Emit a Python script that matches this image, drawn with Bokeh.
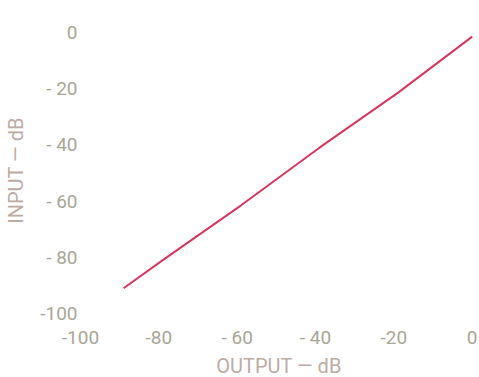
from bokeh.plotting import figure
from bokeh.models import Range1d, FixedTicker, Title
from bokeh.embed import file_html
from bokeh.resources import INLINE

# Values
output_db = [-89, -79, -59, -39, -19, 0]
input_db = [-91, -81, -61.5, -41, -21.5, -1.5]

x_ticks = [-100, -80, -60, -40, -20, 0]
x_tick_labels = ["-100", "-80", "- 60", "- 40", "-20", "0"]
y_ticks = [0, -20, -40, -60, -80, -100]
y_tick_labels = ["0", "- 20", "- 40", "- 60", "- 80", "-100"]

x_title = "OUTPUT — dB"
y_title = "INPUT — dB"

LABEL_COLOR = "#a9a697"
TITLE_COLOR = "#bcaba5"
LINE_COLOR = "#d6365f"

p = figure(width=479, height=377, output_backend="svg", toolbar_location=None,
           x_range=Range1d(-100.51, 1.86), y_range=Range1d(-102.47, 4.24),
           min_border_left=78, min_border_right=0, min_border_top=20, min_border_bottom=55)

p.line(output_db, input_db, line_color=LINE_COLOR, line_width=2)

p.outline_line_color = None
p.xgrid.grid_line_color = None
p.ygrid.grid_line_color = None
p.background_fill_color = "white"

for ax in (p.xaxis[0], p.yaxis[0]):
    ax.axis_line_color = None
    ax.major_tick_line_color = None
    ax.minor_tick_line_color = None
    ax.major_tick_out = 0
    ax.major_tick_in = 0
    ax.minor_tick_out = 0
    ax.minor_tick_in = 0
    ax.major_label_text_color = LABEL_COLOR
    ax.major_label_text_font = "Roboto"
    ax.major_label_text_font_size = "19px"
    ax.axis_label_text_font = "Roboto"
    ax.axis_label_text_font_size = "20px"
    ax.axis_label_text_font_style = "normal"
    ax.axis_label_text_color = TITLE_COLOR

p.xaxis.ticker = FixedTicker(ticks=x_ticks)
p.xaxis.major_label_overrides = dict(zip(x_ticks, x_tick_labels))
p.xaxis.major_label_standoff = 5

p.yaxis.ticker = FixedTicker(ticks=y_ticks)
p.yaxis.major_label_overrides = dict(zip(y_ticks, y_tick_labels))
p.yaxis.major_label_standoff = 1
p.yaxis.major_label_orientation = "horizontal"
p.yaxis.axis_label = y_title
p.yaxis.axis_label_standoff = 9

# x-axis title as a bottom title panel
p.add_layout(Title(text=x_title, align="center", vertical_align="bottom",
                   text_font="Roboto", text_font_size="20px", text_font_style="normal",
                   text_color=TITLE_COLOR, standoff=0, offset=0), "below")

open("out.html", "w").write(file_html(p, INLINE))
